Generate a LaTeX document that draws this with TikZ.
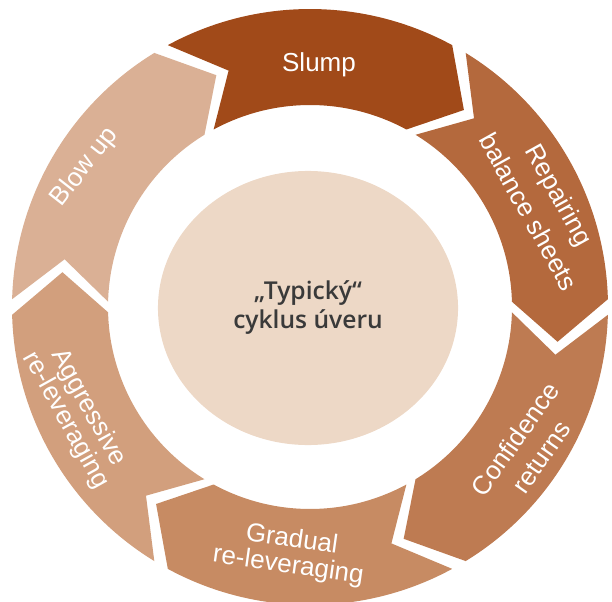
\documentclass[tikz,border=0pt]{standalone}
\usepackage{fontspec}
\setmainfont{Liberation Sans}
\IfFontExistsTF{Open Sans Semibold}{\newfontfamily\hubfont{Open Sans Semibold}}{%
  \IfFontExistsTF{Open Sans SemiBold}{\newfontfamily\hubfont{Open Sans SemiBold}}{%
    \IfFontExistsTF{Fira Sans SemiBold}{\newfontfamily\hubfont{Fira Sans SemiBold}}{%
      \newfontfamily\hubfont{Open Sans}[UprightFeatures={FakeBold=2.5}]}}}
\usetikzlibrary{shapes.geometric}
\definecolor{slumpcol}{HTML}{A14A19}
\definecolor{repaircol}{HTML}{B4693D}
\definecolor{confidcol}{HTML}{BE7B52}
\definecolor{gradualcol}{HTML}{C78B63}
\definecolor{aggresscol}{HTML}{D29F7D}
\definecolor{blowupcol}{HTML}{DAB095}
\definecolor{hubcol}{HTML}{EDD8C6}
\definecolor{hubtext}{HTML}{3A3A3A}
\tikzset{
    phase/.style={
        text=white, align=center, inner sep=0pt,
        font=\fontsize{18.5}{#1}\selectfont
    },
    phase/.default=18.5,
    hub/.style={
        ellipse, fill=hubcol, inner sep=0pt,
        minimum width=7.5cm, minimum height=6.85cm,
        text=hubtext, align=center,
        font=\hubfont\fontsize{17.5}{20.6}\selectfont
    },
}
\newcommand{\ringpiece}[2]{
    \fill[#2] (#1+28.5:298) arc[start angle=#1+28.5, end angle=#1-28.5, radius=298]
        -- (#1-38:250) -- (#1-28.5:202)
        arc[start angle=#1-28.5, end angle=#1+28.5, radius=202]
        -- (#1+19:250) -- cycle;
}

\begin{document}
\begin{tikzpicture}[x=0.025cm, y=0.025cm]
    \useasboundingbox (0,0) rectangle (612,601);
    \clip (0,0) rectangle (612,601);
    \begin{scope}[shift={(310,294)}]
        \ringpiece{90}{slumpcol}
        \ringpiece{30}{repaircol}
        \ringpiece{-30}{confidcol}
        \ringpiece{-90}{gradualcol}
        \ringpiece{-150}{aggresscol}
        \ringpiece{150}{blowupcol}
    \end{scope}
    \node[hub] (hub) at (308,293) {„Typický“\\cyklus úveru};
    \node[phase] (slump) at (319,536) {Slump};
    \node[phase=25, rotate=-61] (repair) at (544,398) {Repairing\\balance sheets};
    \node[phase=22.5, rotate=55] (confid) at (528,153) {Confidence\\returns};
    \node[phase, rotate=-8] (gradual) at (290,48) {Gradual\\re-leveraging};
    \node[phase, rotate=-61] (aggress) at (77,187) {Aggressive\\re-leveraging};
    \node[phase, rotate=52] (blowup) at (85,434) {Blow up};
\end{tikzpicture}
\end{document}
